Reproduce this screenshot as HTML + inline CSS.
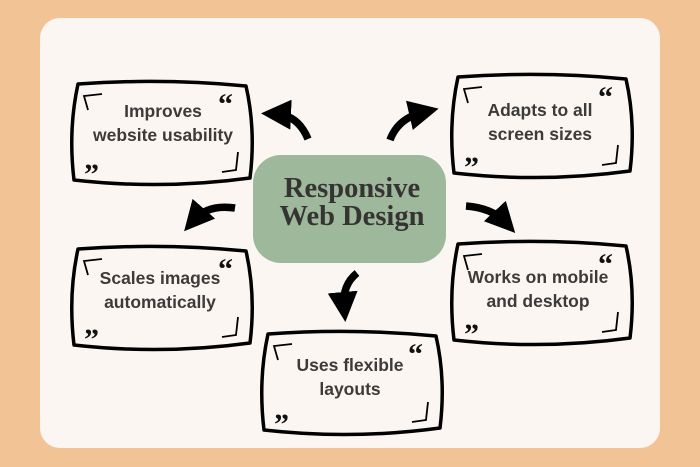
<!DOCTYPE html>
<html><head><meta charset="utf-8"><style>
html,body{margin:0;padding:0;width:700px;height:467px;overflow:hidden;background:#f2c394}
svg{display:block}
.t{font-family:"Liberation Sans",sans-serif;font-weight:bold;font-size:17.5px;fill:#3d3a3a;text-anchor:middle}
.h{font-family:"Liberation Serif",serif;font-weight:bold;font-size:28.5px;fill:#363433;text-anchor:middle}
.q{font-family:"Liberation Serif",serif;font-weight:bold;font-size:30px;fill:#111}
</style></head><body>
<svg width="700" height="467" viewBox="0 0 700 467">
<defs>
<g id="box">
<path d="M6,4 Q90,-2 174,6 Q184,50 178,98 Q90,110 2,100 Q-4,50 6,4 Z" fill="#fbf6f2" stroke="#000" stroke-width="3.5" stroke-linejoin="round"/>
<path d="M16,30 L12,16 L30,14" fill="none" stroke="#000" stroke-width="1.8"/>
<path d="M166,72 L164,90 L150,92" fill="none" stroke="#000" stroke-width="1.8"/>
<text class="q" x="146" y="34">“</text>
<text class="q" x="12" y="104">”</text>
</g>
<marker id="ah" viewBox="0 0 10 10" refX="5" refY="5" markerWidth="4" markerHeight="4" orient="auto"><path d="M0,0 L10,5 L0,10 Z" fill="#000"/></marker>
</defs>
<rect x="40" y="18" width="620" height="430" rx="20" fill="#fbf6f2"/>
<use href="#box" x="72" y="80"/>
<use href="#box" x="452" y="73"/>
<use href="#box" x="72" y="245"/>
<use href="#box" x="452" y="240"/>
<use href="#box" x="262" y="330"/>
<text class="t" x="163" y="117">Improves</text>
<text class="t" x="163" y="141">website usability</text>
<text class="t" x="540" y="116">Adapts to all</text>
<text class="t" x="540" y="140">screen sizes</text>
<text class="t" x="160" y="284">Scales images</text>
<text class="t" x="160" y="308">automatically</text>
<text class="t" x="538" y="283">Works on mobile</text>
<text class="t" x="538" y="307">and desktop</text>
<text class="t" x="350" y="371">Uses flexible</text>
<text class="t" x="350" y="395">layouts</text>
<rect x="253" y="155" width="193" height="108" rx="28" fill="#9db89b"/>
<text class="h" x="352" y="197">Responsive</text>
<text class="h" x="352" y="225">Web Design</text>
<g fill="none" stroke="#000" stroke-width="7.5" marker-end="url(#ah)">
<path d="M308,139 Q298,115 276,114"/>
<path d="M390,140 Q398,118 424,112"/>
<path d="M235,208 Q208,204 194,220"/>
<path d="M466,206 Q492,208 505,222"/>
<path d="M357,273 Q342,285 344,307"/>
</g>
</svg>
</body></html>
